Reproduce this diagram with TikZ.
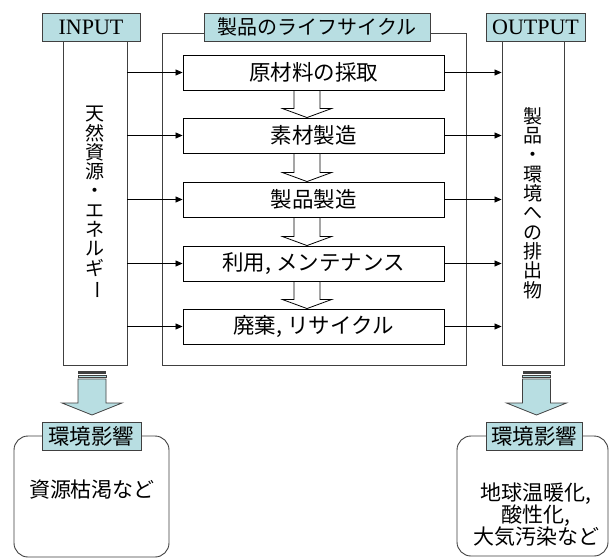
\documentclass[tikz,border=0pt]{standalone}
\usepackage{fontspec}
\usepackage{graphicx}
\setmainfont{Liberation Serif}
\newfontfamily\jp{Noto Sans CJK JP}
\usetikzlibrary{calc,arrows.meta}
\definecolor{hdr}{HTML}{B8DEE2}
\definecolor{ln}{HTML}{404040}
\tikzset{
  hdrbox/.style={draw=ln, fill=hdr, line width=0.9pt, minimum height=28pt, inner sep=0pt, font=\fontsize{22}{24}\selectfont},
  colbox/.style={draw=ln, line width=0.9pt, inner sep=0pt, font=\jp\fontsize{19}{19.3}\selectfont, align=center},
  stepbox/.style={draw=black, fill=white, line width=0.9pt, minimum width=261pt, minimum height=35pt, inner sep=0pt, font=\jp\fontsize{21.5}{23}\selectfont},
  arr/.style={draw=black, line width=0.8pt, -{Triangle[length=7pt,width=6pt]}},
  barrow/.style={draw=black, fill=white, line width=0.8pt, line join=miter},
  carrow/.style={draw=ln, fill=hdr, line width=0.8pt},
  envbox/.style={draw=ln, line width=0.9pt, rounded corners=14pt},
  envtext/.style={font=\jp\fontsize{21}{22}\selectfont, align=center, inner sep=0pt}
}
\begin{document}
\begin{tikzpicture}[x=1pt,y=-1pt]
\useasboundingbox (0,0) rectangle (611,558);
\fill[white] (0,0) rectangle (611,558);
% lifecycle frame
\draw[draw=ln, line width=0.9pt] (162,33) rectangle (466,365);
% columns
\node[colbox, minimum width=64pt, minimum height=324pt] (inp) at (95,203) {天\\然\\資\\源\\・\\エ\\ネ\\ル\\ギ\\\rotatebox[origin=c]{-90}{ー}};
\node[colbox, minimum width=62pt, minimum height=324pt] (out) at (533,203) {製\\品\\・\\環\\境\\へ\\の\\排\\出\\物};
% headers
\node[hdrbox, minimum width=98pt] (hin) at (91,27) {INPUT};
\node[hdrbox, minimum width=226pt, font=\jp\fontsize{20}{22}\selectfont] (hlc) at (317,27) {製品のライフサイクル};
\node[hdrbox, minimum width=99pt] (hout) at (535.5,27) {OUTPUT};
% steps
\node[stepbox] (s1) at (313.5,72.5) {原材料の採取};
\node[stepbox] (s2) at (313.5,135.5) {素材製造};
\node[stepbox] (s3) at (313.5,199.5) {製品製造};
\node[stepbox] (s4) at (313.5,263.5) {利用, メンテナンス};
\node[stepbox] (s5) at (313.5,326.5) {廃棄, リサイクル};
% block arrows between steps
\foreach \a/\b in {s1/s2,s2/s3,s3/s4,s4/s5}{
  \coordinate (A) at ($(\a.south)+(-6.5,0)$);
  \coordinate (B) at ($(\b.north)+(-6.5,0)$);
  \draw[barrow] ($(A)+(-13,0)$) -- ($(A)+(13,0)$) -- ($(B)+(13,-9)$) -- ($(B)+(24.5,-9)$) -- (B) -- ($(B)+(-24.5,-9)$) -- ($(B)+(-13,-9)$) -- cycle;
}
% input/output arrows
\foreach \s in {s1,s2,s3,s4,s5}{
  \draw[arr] (\s.west -| inp.east) -- (\s.west);
  \draw[arr] (\s.east) -- (\s.east -| out.west);
}
% environment boxes
\draw[envbox] (14,436) rectangle (169,557);
\draw[envbox] (457,436) rectangle (608,556);
\node[hdrbox, minimum width=99pt, font=\jp\fontsize{21.5}{23}\selectfont] (envL) at (91.5,436) {環境影響};
\node[hdrbox, minimum width=96pt, font=\jp\fontsize{21.5}{23}\selectfont] (envR) at (534,436) {環境影響};
\node[envtext] (tL) at (92,490) {資源枯渇など};
\node[envtext] (tR) at (536,515) {地球温暖化,\\酸性化,\\大気汚染など};
% bottom block arrows
\foreach \cx in {92,536.5}{
  \fill[ln] (\cx-14,371) rectangle (\cx+14,374);
  \draw[carrow] (\cx-14,375.5) rectangle (\cx+14,377.5);
  \draw[carrow] (\cx-14,379) -- (\cx+14,379) -- (\cx+14,403) -- (\cx+30,403) -- (\cx,415) -- (\cx-30,403) -- (\cx-14,403) -- cycle;
}
\end{tikzpicture}
\end{document}
